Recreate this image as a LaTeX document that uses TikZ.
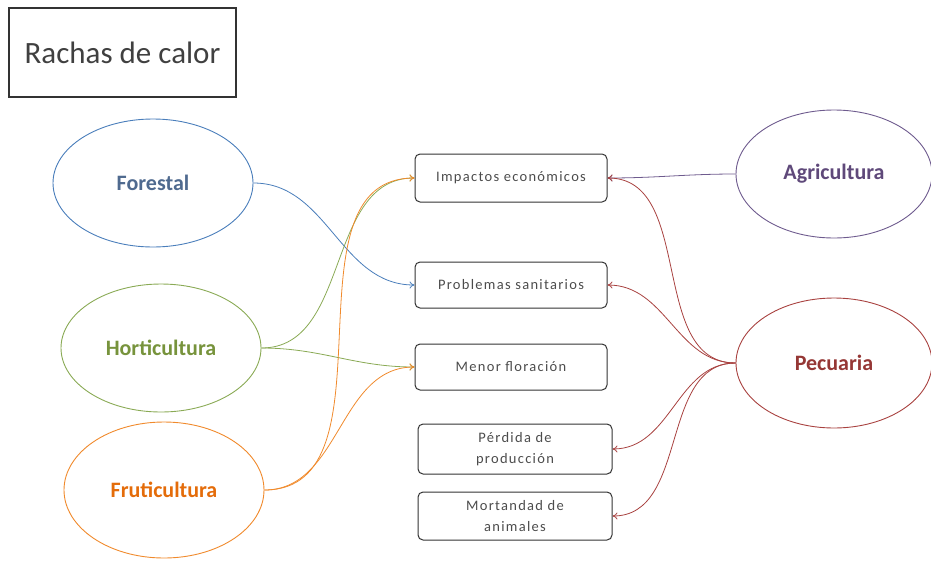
\documentclass[tikz,border=0pt]{standalone}
\usepackage{fontspec}
\setmainfont{Carlito}
\usetikzlibrary{shapes.geometric,arrows.meta}
\definecolor{forestalc}{HTML}{4A7EBB}
\definecolor{forestalt}{HTML}{4F6A8F}
\definecolor{hortic}{HTML}{8AAA55}
\definecolor{hortit}{HTML}{77933C}
\definecolor{frutic}{HTML}{F08A2C}
\definecolor{frutit}{HTML}{E46C0A}
\definecolor{agric}{HTML}{6E5B8E}
\definecolor{agrit}{HTML}{5F497A}
\definecolor{pecc}{HTML}{A8413F}
\definecolor{pect}{HTML}{953735}
\tikzset{
  sector/.style={ellipse, draw, line width=0.9pt, minimum width=200pt, minimum height=128pt, inner sep=0pt, font=\fontsize{22}{24}\selectfont\bfseries},
  impacto/.style={draw=black!80, line width=1pt, rounded corners=5pt, minimum width=192pt, minimum height=48pt, inner sep=2pt, align=center, text=black!70, font=\fontsize{14.5}{21}\selectfont\addfontfeatures{LetterSpace=9}},
  flecha/.style={-{To[length=5pt,width=7pt]}, line width=0.8pt}
}
\begin{document}
\begin{tikzpicture}[x=1pt,y=-1pt]
	\useasboundingbox (0,0) rectangle (931,560);
	\node[draw=black!80, line width=1.2pt, minimum width=227pt, minimum height=89pt, text=black!75, font=\fontsize{31}{33}\selectfont] (titulo) at (122.5,52.5) {Rachas de calor};
	\node[sector, draw=forestalc, text=forestalt] (forestal) at (153,183) {Forestal};
	\node[sector, draw=hortic, text=hortit] (horti) at (161,348) {Horticultura};
	\node[sector, draw=frutic, text=frutit, minimum height=136pt] (fruti) at (164,490) {Fruticultura};
	\node[sector, draw=agric, text=agrit, minimum width=196pt] (agri) at (834,174) {Agricultura};
	\node[sector, draw=pecc, text=pect, minimum width=196pt, minimum height=130pt] (pec) at (834,363) {Pecuaria};
	\node[impacto] (impactos) at (511,178) {Impactos económicos};
	\node[impacto, minimum height=46pt] (problemas) at (511,285) {Problemas sanitarios};
	\node[impacto, minimum height=46pt] (menor) at (511,367) {Menor floración};
	\node[impacto, minimum width=194pt, minimum height=50pt] (perdida) at (515,449) {Pérdida de\\producción};
	\node[impacto, minimum width=194pt, minimum height=48pt] (mortandad) at (515,516) {Mortandad de\\animales};
	\draw[flecha, forestalc] (forestal.east) to[out=0,in=180] (problemas.west);
	\draw[flecha, hortic] (horti.east) to[out=0,in=180] (impactos.west);
	\draw[flecha, hortic] (horti.east) to[out=0,in=180] (menor.west);
	\draw[flecha, frutic] (fruti.east) to[out=0,in=180] (impactos.west);
	\draw[flecha, frutic] (fruti.east) to[out=0,in=180] (menor.west);
	\draw[flecha, agric] (agri.west) to[out=180,in=0] (impactos.east);
	\draw[flecha, pecc] (pec.west) to[out=180,in=0] (impactos.east);
	\draw[flecha, pecc] (pec.west) to[out=180,in=0] (problemas.east);
	\draw[flecha, pecc] (pec.west) to[out=180,in=0] (perdida.east);
	\draw[flecha, pecc] (pec.west) to[out=180,in=0] (mortandad.east);
\end{tikzpicture}
\end{document}
